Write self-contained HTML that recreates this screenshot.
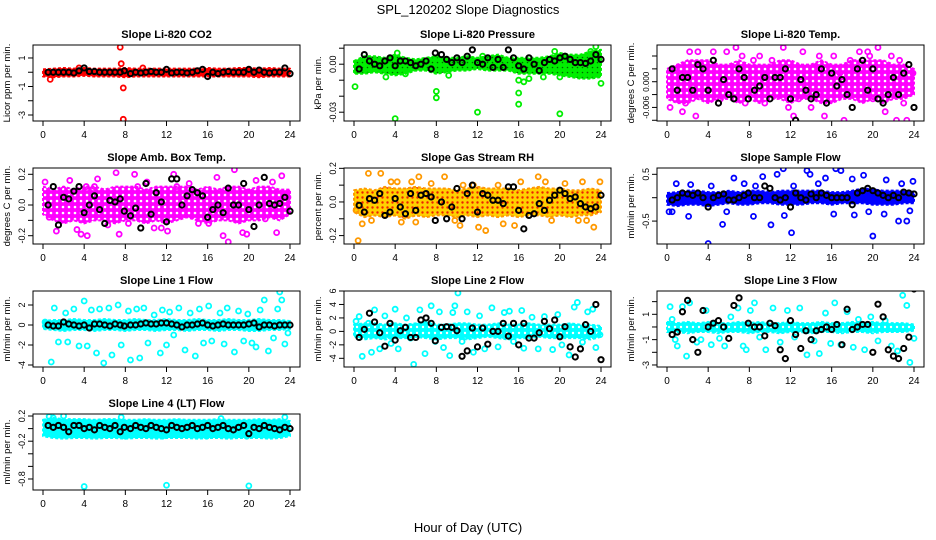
<!DOCTYPE html>
<html><head><meta charset="utf-8"><style>
html,body{margin:0;padding:0;background:#fff;}
svg{display:block;font-family:"Liberation Sans",sans-serif;}
</style></head><body>
<svg id="chart" width="936" height="540" viewBox="0 0 936 540">
<defs>
<pattern id="spk-mag" width="6" height="6" patternUnits="userSpaceOnUse"><rect width="6" height="6" fill="#ff00ff"/><circle cx="3" cy="3" r="1.3" fill="#fff"/></pattern>
<pattern id="spk-rh" width="5" height="5" patternUnits="userSpaceOnUse"><rect width="5" height="5" fill="#ffd000"/><circle cx="2.5" cy="2.5" r="1.2" fill="#ee2200"/></pattern>
<pattern id="spk-cyan" width="6" height="6" patternUnits="userSpaceOnUse"><rect width="6" height="6" fill="#00ffff"/><circle cx="3" cy="3" r="1.2" fill="#fff"/></pattern>
<pattern id="spk-green" width="5" height="5" patternUnits="userSpaceOnUse"><rect width="5" height="5" fill="#00ee00"/><circle cx="2.5" cy="2.5" r="0.8" fill="#006600"/></pattern>
</defs>
<text x="468" y="14" text-anchor="middle" font-size="13">SPL_120202  Slope Diagnostics</text>
<text x="468" y="532" text-anchor="middle" font-size="13">Hour of Day (UTC)</text>
</svg>
<script>
const hours = [0,1,2,3,4,5,6,7,8,9,10,11,12,13,14,15,16,17,18,19,20,21,22,23,24];
const blackHours = [0.5,1,1.5,2,2.5,3,3.5,4,4.5,5,5.5,6,6.5,7,7.5,7.9,8.5,9,9.5,10,10.5,11,11.5,12,12.5,13,13.5,14,14.5,15,15.5,16,16.5,17,17.5,18,18.5,19,19.5,20,20.5,21,21.5,22,22.5,23,23.5,24];
const xTicks = [0,4,8,12,16,20,24];

const p1Lo = [-0.3,-0.35,-0.3,-0.3,-0.25,-0.3,-0.3,-0.3,-0.35,-0.3,-0.3,-0.3,-0.3,-0.3,-0.3,-0.3,-0.3,-0.3,-0.3,-0.3,-0.3,-0.35,-0.3,-0.3,-0.3];
const p1Hi = [0.2,0.25,0.3,0.25,0.3,0.25,0.25,0.25,0.3,0.25,0.25,0.25,0.25,0.25,0.25,0.25,0.3,0.25,0.25,0.3,0.3,0.25,0.3,0.25,0.25];
const p1OutX = [7.5,7.6,7.8,7.8,0.7,9.7,3.5];
const p1OutY = [1.75,0.6,-1.1,-3.3,-0.5,0.3,0.3];
const p1Black = [0,0,0,0,0,-0.05,0.1,0.3,0.05,0.05,0,0,0,0,0,0.1,-0.1,0,-0.05,0,0.05,0,0,0.2,-0.05,0,0,-0.05,0,0.1,0.2,-0.3,0,-0.1,0,0.05,0,0,0,0.2,0,0.15,0,-0.05,0,0,0.3,-0.1];

const p2Lo = [-0.006,-0.006,-0.005,-0.006,-0.007,-0.006,-0.004,-0.004,-0.006,-0.005,-0.004,-0.004,-0.003,-0.004,-0.004,-0.004,-0.006,-0.006,-0.006,-0.006,-0.007,-0.008,-0.009,-0.009,-0.008];
const p2Hi = [0.002,0.005,0.005,0.004,0.006,0.004,0.003,0.004,0.005,0.004,0.004,0.005,0.004,0.005,0.006,0.004,0.004,0.004,0.004,0.005,0.007,0.006,0.006,0.008,0.009];
const p2OutX = [0.1,4,8,8,12,16,16,16,20,24,23.5,4.2,23,3.1,5,9.2,17,20,18.4,12.5,19.5,16.5];
const p2OutY = [-0.014,-0.034,-0.017,-0.021,-0.030,-0.018,-0.025,-0.010,-0.031,-0.012,0.011,0.007,0.008,-0.008,-0.006,-0.007,-0.009,-0.008,-0.008,0.005,0.008,-0.011];
const p2Black = [-0.003,0.006,0.002,0,-0.001,0.002,0.004,-0.001,0.002,0.002,0.001,-0.001,0,0.002,-0.003,0.007,0.006,0.003,0.001,0.004,0.001,0.005,0.009,0.001,0,0.004,-0.002,0.003,-0.002,0.009,0.004,-0.001,-0.003,0.004,0,-0.004,0.001,0.003,0.002,0.004,0.005,0.003,0.001,0.001,0.0005,0.002,0.006,0.003];

const p3Lo = [-0.004,-0.005,-0.005,-0.004,-0.005,-0.004,-0.004,-0.005,-0.004,-0.005,-0.004,-0.004,-0.005,-0.004,-0.004,-0.005,-0.005,-0.004,-0.004,-0.005,-0.004,-0.005,-0.004,-0.004,-0.003];
const p3Hi = [0.003,0.004,0.005,0.005,0.005,0.004,0.004,0.005,0.004,0.004,0.004,0.005,0.005,0.004,0.004,0.005,0.004,0.004,0.005,0.005,0.005,0.005,0.004,0.004,0.003];
const p3OutX = [0.3,0.8,1.5,2.2,2.8,3.0,3.3,4.5,5.2,5.8,6.7,7.3,7.6,8.4,9.5,10.2,11.3,11.8,12.3,13.2,14.0,14.8,15.3,16.2,17.2,17.8,18.7,19.5,20.0,20.5,21.2,21.8,22.3,23.0,23.3,23.9,1.8,4.2,9.0,12.8,16.8,19.7,22.6];
const p3OutY = [-0.006,0.003,-0.007,0.007,-0.008,0.007,0.004,0.007,-0.004,0.007,0.008,0.006,-0.005,0.005,-0.005,0.005,0.008,-0.006,-0.008,0.007,-0.006,0.006,-0.008,0.006,-0.009,0.005,0.007,0.007,-0.004,0.008,-0.007,0.006,-0.009,-0.005,-0.009,0.002,-0.005,-0.004,0.006,-0.004,0.002,0.006,0.005];
const p3Black = [0.003,-0.002,0.001,0.001,-0.002,0.004,0.003,-0.002,0.005,-0.005,0.0005,-0.003,-0.004,0.003,0.001,-0.004,-0.002,-0.001,0.001,-0.004,0.001,0.001,0.003,-0.004,-0.009,0.0005,-0.002,-0.004,-0.003,0.003,-0.005,0.002,-0.001,0.0005,-0.003,-0.006,0.003,0.005,-0.002,0.003,-0.004,-0.005,-0.003,0.001,-0.003,0.002,0.004,-0.006];

const p4Lo = [-0.06,-0.1,-0.12,-0.1,-0.12,-0.1,-0.1,-0.12,-0.1,-0.1,-0.12,-0.1,-0.12,-0.1,-0.08,-0.1,-0.12,-0.1,-0.1,-0.12,-0.1,-0.1,-0.08,-0.1,-0.06];
const p4Hi = [0.12,0.1,0.12,0.1,0.12,0.12,0.1,0.12,0.12,0.12,0.1,0.12,0.12,0.12,0.12,0.1,0.12,0.1,0.12,0.12,0.1,0.12,0.12,0.1,0.1];
const p4OutX = [0.2,0.6,1.3,2.0,2.6,3.3,3.7,4.3,5.0,5.3,6.3,7.1,7.4,8.9,9.2,10.1,10.8,11.5,12.7,13.0,14.2,15.1,16.1,16.9,17.5,18.0,18.6,19.4,20.7,21.6,22.3,22.7,23.2,23.8,4.2,8.3,12.1,19.8];
const p4OutY = [0.15,-0.08,-0.17,0.1,0.16,-0.16,-0.19,-0.2,0.12,0.17,-0.13,0.21,-0.19,0.2,0.12,0.15,-0.15,-0.15,0.2,0.12,0.14,-0.12,-0.12,0.18,-0.2,-0.24,0.23,-0.18,0.16,-0.09,0.15,-0.18,0.19,0.05,0.12,-0.12,-0.17,-0.19];
const p4Black = [0.0,0.12,-0.13,0.05,0.04,0.09,0.12,-0.05,0.0,0.06,-0.03,-0.12,0.03,0.02,0.04,-0.04,-0.07,-0.02,-0.15,0.14,-0.06,0.08,0.02,-0.11,0.17,0.17,0.0,0.06,0.1,0.08,0.06,-0.08,-0.03,0.0,-0.05,0.11,0.0,0.0,0.14,-0.03,-0.14,0.0,0.18,0.01,0.0,0.01,0.05,-0.04];

const p5Lo = [-0.06,-0.09,-0.08,-0.09,-0.08,-0.1,-0.08,-0.09,-0.08,-0.08,-0.09,-0.08,-0.09,-0.08,-0.09,-0.08,-0.09,-0.08,-0.08,-0.09,-0.08,-0.09,-0.08,-0.08,-0.06];
const p5Hi = [0.07,0.08,0.07,0.09,0.08,0.08,0.09,0.08,0.08,0.08,0.07,0.08,0.09,0.08,0.08,0.08,0.07,0.08,0.09,0.08,0.08,0.07,0.07,0.08,0.07];
const p5OutX = [0.2,0.4,0.8,1.4,1.7,2.6,3.6,4.2,4.6,5.6,6.3,7.5,8.8,9.8,10.3,10.6,11.6,12.1,12.8,14.0,14.5,15.6,17.9,18.6,19.2,20.5,21.8,22.2,22.6,23.3,23.9,6.0,16.2];
const p5OutY = [-0.05,-0.23,-0.13,0.17,-0.11,0.17,0.12,0.12,-0.12,0.12,0.15,0.11,0.15,-0.11,-0.14,0.1,0.1,-0.15,-0.17,0.1,-0.13,-0.14,0.15,0.12,-0.11,0.11,-0.11,0.12,-0.11,-0.15,0.12,-0.12,0.12];
const p5Black = [-0.02,-0.06,0.02,0.01,0.05,-0.08,-0.06,0.02,-0.03,-0.07,0.05,-0.05,0.04,0.05,0.03,-0.11,0.0,-0.1,-0.03,0.08,-0.1,0.05,0.1,-0.06,0.05,0.04,0.01,0.01,-0.01,0.09,0.09,-0.05,-0.16,-0.08,-0.07,-0.01,-0.05,0.01,0.04,0.07,0.05,0.02,0.03,-0.01,-0.03,-0.04,-0.03,0.04];

const p6Lo = [-0.15,-0.18,-0.15,-0.15,-0.18,-0.15,-0.12,-0.15,-0.15,-0.12,-0.12,-0.15,-0.15,-0.15,-0.12,-0.12,-0.15,-0.12,-0.12,-0.12,-0.15,-0.15,-0.15,-0.12,-0.12];
const p6Hi = [0.1,0.12,0.15,0.15,0.12,0.12,0.15,0.12,0.15,0.15,0.12,0.15,0.15,0.15,0.15,0.15,0.12,0.12,0.15,0.2,0.18,0.15,0.15,0.15,0.12];
const p6OutX = [0.2,0.5,0.9,2.1,2.3,4.0,4.3,5.4,5.8,6.5,7.5,8.4,8.6,9.3,10.1,10.7,11.4,11.3,12.1,12.3,13.6,13.9,14.7,15.4,16.2,16.4,16.9,18.0,18.2,19.1,19.6,20.0,21.1,21.3,22.5,22.8,23.3,23.6,23.9];
const p6OutY = [-0.3,-0.3,0.3,-0.4,0.28,-0.98,0.25,-0.57,-0.3,0.42,0.3,-0.4,0.25,0.45,-0.58,0.5,-0.38,0.62,-0.75,0.25,0.58,0.5,0.3,0.42,-0.35,0.62,0.58,0.4,-0.37,0.48,-0.3,-0.82,-0.35,0.38,-0.5,0.3,-0.5,-0.28,0.35];
const p6Black = [-0.05,0.0,0.1,0.08,0.05,0.1,0.0,-0.2,0.0,0.05,0.08,-0.05,-0.05,0.0,0.05,0.1,0.0,0.0,0.25,0.2,0.0,-0.05,0.0,-0.2,0.1,0.0,-0.05,0.08,0.0,0.1,0.05,0.0,0.0,0.0,0.0,-0.15,0.1,0.15,0.2,0.15,0.1,0.05,0.0,0.05,0.0,0.12,0.1,0.08];

const p7Lo = [-0.4,-0.5,-0.6,-0.5,-0.5,-0.6,-0.5,-0.5,-0.6,-0.5,-0.5,-0.6,-0.5,-0.5,-0.6,-0.5,-0.5,-0.6,-0.5,-0.5,-0.6,-0.6,-0.5,-0.5,-0.4];
const p7Hi = [0.4,0.5,0.5,0.6,0.5,0.5,0.6,0.5,0.5,0.6,0.5,0.5,0.6,0.5,0.5,0.6,0.5,0.5,0.6,0.5,0.5,0.6,0.5,0.5,0.4];
const p7OutX = [0.2,0.8,1.1,1.5,2.2,2.4,3.0,3.5,4.0,4.3,4.7,5.2,5.5,5.9,6.4,6.7,7.3,7.6,8.3,8.5,9.1,9.4,9.8,10.2,10.8,11.4,11.6,12.0,12.3,12.7,13.2,13.8,14.3,14.8,15.2,15.6,16.1,16.4,17.2,17.6,17.9,18.6,19.0,19.5,19.9,20.3,20.7,21.1,21.5,21.9,22.4,22.8,23.0,23.2,23.5,23.8];
const p7OutY = [0.3,-3.7,1.7,-1.7,1.2,-1.7,1.6,-2.1,2.4,-2.1,1.5,-2.8,1.6,-3.8,1.7,-3.0,2.0,-2.0,1.4,-3.5,1.6,-3.3,1.7,-1.8,1.0,-2.8,1.5,-2.0,1.3,-1.0,1.7,-2.5,1.2,-3.1,1.6,-1.8,1.9,-1.6,1.2,-1.9,1.7,-2.7,1.4,-1.6,1.1,-1.8,-2.2,1.5,2.5,-2.6,-1.3,1.6,3.3,2.5,-1.9,-0.8];
const p7Black = [0.0,-0.1,-0.1,0.3,0.1,0.0,-0.1,0.0,-0.3,0.1,0.1,0.0,-0.1,0.1,0.0,-0.1,0.0,0.0,0.1,0.2,0.1,0.1,0.2,0.2,0.1,0.0,-0.2,0.0,0.0,0.1,0.2,0.0,-0.1,0.0,0.1,0.0,0.0,0.0,0.0,0.1,0.2,-0.2,0.0,0.0,-0.1,0.0,0.0,0.0];

const p8Lo = [-0.8,-1.2,-1.0,-1.2,-1.0,-1.0,-0.8,-1.0,-1.2,-1.0,-1.0,-1.2,-1.0,-0.8,-1.0,-1.2,-1.0,-1.0,-0.8,-1.0,-1.0,-1.0,-1.0,-1.2,-0.8];
const p8Hi = [1.0,1.2,1.2,1.0,1.2,1.0,1.2,1.5,1.0,1.0,1.2,1.2,1.0,1.0,1.2,1.0,1.0,1.2,1.0,1.0,1.0,1.2,1.0,1.0,0.8];
const p8OutX = [0.2,0.5,0.8,1.4,1.7,2.0,2.5,3.0,3.6,4.0,4.3,5.1,5.5,5.8,6.4,6.9,7.5,7.9,8.3,8.7,9.3,9.6,9.8,10.1,10.5,11.0,11.6,12.2,12.7,13.4,14.0,14.6,15.1,15.5,16.3,16.5,17.3,17.9,18.5,19.3,19.8,20.2,20.9,21.4,21.7,22.2,22.7,23.2,23.5,23.9];
const p8OutY = [1.5,2.2,-3.7,1.2,-3.1,3.2,-2.6,2.3,-1.8,3.3,-2.6,2.0,-1.0,-4.9,3.2,-3.3,3.8,-1.5,2.9,-2.4,-3.6,2.8,3.8,5.7,-1.5,2.9,-3.1,2.3,-2.6,3.5,-2.3,2.8,3.0,-1.5,3.1,-2.5,2.1,-2.6,2.2,-2.7,2.5,-2.0,-3.5,3.6,4.3,-1.6,2.9,3.3,-2.4,-0.5];
const p8Black = [-0.9,0.3,2.7,1.4,-0.2,-2.2,1.2,-1.3,0.1,0.6,-0.9,-0.9,1.7,2.0,1.2,-1.4,0.6,0.7,0.6,0.1,-3.7,-2.9,0.5,-2.3,0.5,-1.9,0.0,0.0,1.2,-0.7,1.2,-2.0,1.2,-1.0,-1.0,-0.2,1.5,0.4,1.7,-0.8,0.7,-2.3,-3.8,-2.6,1.0,0.0,4.0,-4.2];

const p9Lo = [-0.4,-0.4,-0.5,-0.4,-0.4,-0.5,-0.4,-0.4,-0.5,-0.4,-0.4,-0.5,-0.4,-0.4,-0.5,-0.4,-0.4,-0.5,-0.4,-0.4,-0.5,-0.4,-0.4,-0.4,-0.3];
const p9Hi = [0.4,0.3,0.4,0.3,0.4,0.3,0.3,0.4,0.3,0.4,0.3,0.3,0.4,0.3,0.3,0.4,0.3,0.3,0.4,0.3,0.4,0.3,0.3,0.3,0.2];
const p9OutX = [0.3,0.5,0.8,1.0,1.5,1.9,2.2,2.9,3.3,3.8,4.3,5.1,5.6,6.2,6.9,7.4,7.7,8.1,8.5,9.0,9.6,10.3,11.0,11.7,12.4,12.9,13.6,14.3,14.8,15.4,15.9,16.3,16.9,17.5,18.1,18.6,19.2,19.8,20.5,21.2,21.8,22.4,22.9,23.3,23.6,24.0];
const p9OutY = [1.6,0.6,-1.0,-1.5,1.6,-2.3,1.9,-1.2,-1.0,1.3,-1.4,-0.9,-1.5,0.8,1.5,-1.5,-1.8,1.3,1.9,-0.8,-1.8,1.5,-1.2,1.3,-0.8,1.5,-2.2,-1.1,-2.1,1.1,-1.3,1.9,-1.4,1.2,-1.6,0.6,-1.8,0.8,-1.1,0.5,-1.5,-1.9,2.5,1.7,-2.8,-0.9];
const p9Black = [-0.6,-0.4,1.2,2.1,-1.0,-2.0,1.3,0.0,0.3,0.5,0.0,-0.9,1.7,2.3,3.3,0.3,0.0,0.0,-0.7,0.3,0.1,-1.8,-2.5,0.5,-0.6,-1.7,-0.3,-1.0,-0.3,-0.2,0.0,-0.2,0.2,-1.4,1.4,-0.2,0.0,0.2,0.2,-2.0,1.8,0.8,-1.8,-2.3,-2.5,-1.7,-0.8,3.0];

const p10Lo = [-0.12,-0.15,-0.16,-0.15,-0.15,-0.16,-0.15,-0.15,-0.16,-0.15,-0.15,-0.16,-0.15,-0.15,-0.15,-0.16,-0.15,-0.15,-0.16,-0.15,-0.15,-0.15,-0.16,-0.15,-0.12];
const p10Hi = [0.14,0.17,0.15,0.15,0.15,0.14,0.15,0.15,0.14,0.14,0.15,0.14,0.14,0.15,0.14,0.14,0.14,0.15,0.14,0.14,0.14,0.15,0.14,0.15,0.12];
const p10OutX = [0.6,1.0,2.0,4.0,12.0,19.8,20.0,7.6,11.6,17.3,23.5,15.9,21.2,8.0];
const p10OutY = [0.19,0.17,0.2,-0.92,-0.9,-0.12,-0.91,0.18,-0.12,0.16,0.18,-0.12,-0.08,-0.12];
const p10Black = [0.05,0.02,0.05,0.02,-0.05,0.05,0.05,0.0,0.02,-0.02,0.05,0.02,0.0,0.05,-0.05,0.02,0.0,0.05,0.02,0.0,0.05,0.02,0.0,-0.02,0.05,0.02,0.0,0.02,0.05,0.0,0.02,0.05,0.0,0.02,0.05,0.0,-0.02,0.02,0.05,-0.08,0.02,0.0,0.05,0.02,0.0,-0.02,0.02,0.0];

const NS = 'http://www.w3.org/2000/svg';
const svg = document.getElementById('chart');
function mk(tag, attrs, parent){
  const e = document.createElementNS(NS, tag);
  for (const k in attrs) e.setAttribute(k, attrs[k]);
  (parent||svg).appendChild(e);
  return e;
}
const colL = [33,344,657], rowT = [45,168,291,414], W = 267, H = 76;
const panels = [
 {name:'co2',title:'Slope Li-820 CO2',yt:'Licor ppm per min.',c:0,r:0,y0:1.91,y1:-3.42,ticks:[1,0,-1,-2,-3],labels:{'1':'1','-1':'-1','-3':'-3'},col:'#ff0000',fill:'#ff0000',fs:9,lo:p1Lo,hi:p1Hi,ox:p1OutX,oy:p1OutY,bk:p1Black},
 {name:'pressure',title:'Slope Li-820 Pressure',yt:'kPa per min.',c:1,r:0,y0:0.012,y1:-0.0355,ticks:[0.01,0,-0.01,-0.02,-0.03],labels:{'0':'0.00','-0.03':'-0.03'},col:'#00ee00',fill:'url(#spk-green)',fs:9,lo:p2Lo,hi:p2Hi,ox:p2OutX,oy:p2OutY,bk:p2Black},
 {name:'temp',title:'Slope Li-820 Temp.',yt:'degrees C per min.',c:2,r:0,y0:0.00857,y1:-0.00917,ticks:[0.006,0.003,0,-0.003,-0.006,-0.009],labels:{'0':'0.000','-0.006':'-0.006'},col:'#ff00ff',fill:'url(#spk-mag)',fs:8,lo:p3Lo,hi:p3Hi,ox:p3OutX,oy:p3OutY,bk:p3Black},
 {name:'amb-temp',title:'Slope Amb. Box Temp.',yt:'degrees C per min.',c:0,r:1,y0:0.241,y1:-0.254,ticks:[0.2,0.1,0,-0.1,-0.2],labels:{'0.2':'0.2','0':'0.0','-0.2':'-0.2'},col:'#ff00ff',fill:'url(#spk-mag)',fs:9,lo:p4Lo,hi:p4Hi,ox:p4OutX,oy:p4OutY,bk:p4Black},
 {name:'rh',title:'Slope Gas Stream RH',yt:'percent per min.',c:1,r:1,y0:0.202,y1:-0.25,ticks:[0.2,0.1,0,-0.1,-0.2],labels:{'0.2':'0.2','0':'0.0','-0.2':'-0.2'},col:'#ff9900',fill:'url(#spk-rh)',fs:9,lo:p5Lo,hi:p5Hi,ox:p5OutX,oy:p5OutY,bk:p5Black},
 {name:'sample-flow',title:'Slope Sample Flow',yt:'ml/min per min.',c:2,r:1,y0:0.635,y1:-0.99,ticks:[0.5,0,-0.5],labels:{'0.5':'0.5','-0.5':'-0.5'},col:'#0000ff',fill:'#0000ff',fs:9,lo:p6Lo,hi:p6Hi,ox:p6OutX,oy:p6OutY,bk:p6Black},
 {name:'line1-flow',title:'Slope Line 1 Flow',yt:'ml/min per min.',c:0,r:2,y0:3.4,y1:-4.2,ticks:[2,0,-2,-4],labels:{'2':'2','0':'0','-2':'-2','-4':'-4'},col:'#00ffff',fill:'#00ffff',fs:9,lo:p7Lo,hi:p7Hi,ox:p7OutX,oy:p7OutY,bk:p7Black},
 {name:'line2-flow',title:'Slope Line 2 Flow',yt:'ml/min per min.',c:1,r:2,y0:6.0,y1:-5.29,ticks:[6,4,2,0,-2,-4],labels:{'6':'6','4':'4','2':'2','0':'0','-2':'-2','-4':'-4'},col:'#00ffff',fill:'url(#spk-cyan)',fs:9,lo:p8Lo,hi:p8Hi,ox:p8OutX,oy:p8OutY,bk:p8Black},
 {name:'line3-flow',title:'Slope Line 3 Flow',yt:'ml/min per min.',c:2,r:2,y0:2.84,y1:-3.16,ticks:[2,1,0,-1,-2,-3],labels:{'1':'1','-1':'-1','-3':'-3'},col:'#00ffff',fill:'url(#spk-cyan)',fs:9,lo:p9Lo,hi:p9Hi,ox:p9OutX,oy:p9OutY,bk:p9Black},
 {name:'line4-flow',title:'Slope Line 4 (LT) Flow',yt:'ml/min per min.',c:0,r:3,y0:0.232,y1:-0.975,ticks:[0.2,0,-0.2,-0.4,-0.6,-0.8],labels:{'0.2':'0.2','-0.2':'-0.2','-0.8':'-0.8'},col:'#00ffff',fill:'#00ffff',fs:9,lo:p10Lo,hi:p10Hi,ox:p10OutX,oy:p10OutY,bk:p10Black}
];
panels.forEach((p,i)=>{
  const L = colL[p.c], T = rowT[p.r];
  const xs = h => L + 10 + h*(W-20)/24;
  const ys = v => T + (p.y0 - v)/(p.y0 - p.y1)*H;
  const g = mk('g',{});
  
  
  const cp = mk('clipPath',{id:'cp'+i},g);
  mk('rect',{x:L,y:T,width:W,height:H},cp);
  const t = mk('text',{x:L+W/2,y:T-7,'text-anchor':'middle','font-size':11,'font-weight':'bold'},g);
  t.textContent = p.title;
  
  
  const yt = mk('text',{x:0,y:0,'text-anchor':'middle','font-size':9.5,transform:`translate(${L-23},${T+H/2}) rotate(-90)`},g);
  yt.textContent = p.yt;
  
  
  const pg = mk('g',{'clip-path':`url(#cp${i})`},g);
  
  
  let d = '';
  hours.forEach((h,k)=>{ d += (k?'L':'M') + xs(h) + ' ' + ys(p.hi[k]) + ' '; });
  for (let k=hours.length-1;k>=0;k--) d += 'L' + xs(hours[k]) + ' ' + ys(p.lo[k]) + ' ';
  const band = mk('path',{d:d+'Z',fill:p.fill,stroke:p.col,'stroke-width':2,'stroke-dasharray':'3 2','stroke-linejoin':'round'},pg);
  
  
  p.ox.forEach((h,k)=>{
    const c = mk('circle',{cx:xs(h),cy:ys(p.oy[k]),r:2.5,fill:'none',stroke:p.col,'stroke-width':1.8},pg);
    
    
  });
  blackHours.forEach((h,k)=>{
    if (p.bk[k] === undefined) return;
    const c = mk('circle',{cx:xs(h),cy:ys(p.bk[k]),r:2.6,fill:'none',stroke:'#000','stroke-width':2},pg);
    
    
  });
  const box = mk('rect',{x:L,y:T,width:W,height:H,fill:'none',stroke:'#000','stroke-width':1},g);
  
  
  xTicks.forEach(h=>{
    mk('line',{x1:xs(h),x2:xs(h),y1:T+H,y2:T+H+5,stroke:'#000'},g);
    const lt = mk('text',{x:xs(h),y:T+H+17,'text-anchor':'middle','font-size':10},g);
    lt.textContent = h;
    
    
  });
  p.ticks.forEach(v=>{
    mk('line',{x1:L-5,x2:L,y1:ys(v),y2:ys(v),stroke:'#000'},g);
    const lab = p.labels[String(v)];
    if (lab) {
      const lt = mk('text',{x:0,y:0,'text-anchor':'middle','font-size':p.fs,transform:`translate(${L-8},${ys(v)}) rotate(-90)`},g);
      lt.textContent = lab;
      
      
    }
  });
});
</script>
</body></html>
